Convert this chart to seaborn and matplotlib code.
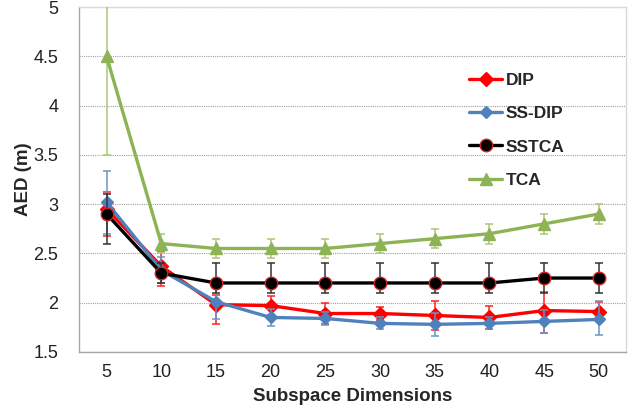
import numpy as np
import pandas as pd
import seaborn as sns
import matplotlib.pyplot as plt

# subspace dimensions
dims = [5, 10, 15, 20, 25, 30, 35, 40, 45, 50]

# mean AED (m) per method
dip = [2.95, 2.37, 1.98, 1.97, 1.89, 1.89, 1.87, 1.85, 1.92, 1.91]
ssdip = [3.02, 2.33, 2.01, 1.85, 1.84, 1.79, 1.78, 1.79, 1.81, 1.83]
sstca = [2.90, 2.30, 2.20, 2.20, 2.20, 2.20, 2.20, 2.20, 2.25, 2.25]
tca = [4.50, 2.60, 2.55, 2.55, 2.55, 2.60, 2.65, 2.70, 2.80, 2.90]

# error bars (below, above)
dip_lo = [0.27, 0.20, 0.20, 0.10, 0.11, 0.07, 0.15, 0.12, 0.23, 0.10]
dip_hi = [0.17, 0.15, 0.10, 0.10, 0.11, 0.07, 0.15, 0.12, 0.19, 0.10]
ssdip_lo = [0.32, 0.13, 0.18, 0.09, 0.07, 0.06, 0.12, 0.06, 0.12, 0.16]
ssdip_hi = [0.32, 0.13, 0.18, 0.09, 0.07, 0.06, 0.12, 0.06, 0.12, 0.19]
sstca_lo = [0.30, 0.10, 0.10, 0.10, 0.10, 0.10, 0.10, 0.10, 0.15, 0.15]
sstca_hi = [0.20, 0.10, 0.20, 0.20, 0.20, 0.20, 0.20, 0.20, 0.15, 0.15]
tca_lo = [1.00, 0.10, 0.10, 0.10, 0.10, 0.10, 0.10, 0.10, 0.10, 0.10]
tca_hi = [1.00, 0.10, 0.10, 0.10, 0.10, 0.10, 0.10, 0.10, 0.10, 0.10]

methods = ["DIP", "SS-DIP", "SSTCA", "TCA"]
means = [dip, ssdip, sstca, tca]
lows = [dip_lo, ssdip_lo, sstca_lo, tca_lo]
highs = [dip_hi, ssdip_hi, sstca_hi, tca_hi]

line_colors = {"DIP": "#ff0000", "SS-DIP": "#4f81bd", "SSTCA": "#000000", "TCA": "#8db354"}
err_colors = {"DIP": "#ff2020", "SS-DIP": "#6f93c4", "SSTCA": "#333333", "TCA": "#a9c77a"}
marker_map = {"DIP": "D", "SS-DIP": "D", "SSTCA": "o", "TCA": "^"}
marker_size = {"DIP": 7, "SS-DIP": 6, "SSTCA": 9, "TCA": 9}
edge_map = {"DIP": "#ff0000", "SS-DIP": "#4f81bd", "SSTCA": "#d02020", "TCA": "#8db354"}

df = pd.DataFrame({
    "Subspace Dimensions": dims * len(methods),
    "AED (m)": sum(means, []),
    "Method": sum([[m] * len(dims) for m in methods], []),
})

sns.set_style("white")
plt.rcParams['font.family'] = ['Liberation Sans', 'DejaVu Sans']

fig, ax = plt.subplots(figsize=(6.39, 4.17), dpi=100)
fig.subplots_adjust(left=0.124, right=0.98, top=0.983, bottom=0.156)

for i, m in enumerate(methods):
    sub = df[df["Method"] == m]
    ax.errorbar(sub["Subspace Dimensions"], sub["AED (m)"], yerr=[lows[i], highs[i]],
                fmt="none", ecolor=err_colors[m], elinewidth=1.1, capsize=3, capthick=1.1,
                zorder=2 + i)
    sns.lineplot(data=sub, x="Subspace Dimensions", y="AED (m)", ax=ax,
                 color=line_colors[m], linewidth=2.4, marker=marker_map[m],
                 markersize=marker_size[m], markeredgecolor=edge_map[m],
                 markeredgewidth=1, label=m, zorder=3 + i)

ax.set_xlim(2.5, 52.5)
ax.set_ylim(1.5, 5)
ax.set_xticks(dims)
ax.set_yticks([1.5, 2, 2.5, 3, 3.5, 4, 4.5, 5])
ax.set_yticklabels(["1.5", "2", "2.5", "3", "3.5", "4", "4.5", "5"])
ax.tick_params(axis="both", labelsize=13, length=0, colors="#222222")
ax.tick_params(axis="x", pad=9)
ax.tick_params(axis="y", pad=15)
ax.yaxis.grid(True, linestyle=(0, (1, 1)), color="#a0a0a0", linewidth=0.8)
ax.xaxis.grid(False)
for s in ["top", "right"]:
    ax.spines[s].set_color("#d9d9d9")
for s in ["left", "bottom"]:
    ax.spines[s].set_color("#a6a6a6")
for s in ax.spines.values():
    s.set_linewidth(1)

ax.set_xlabel("Subspace Dimensions", fontsize=13.5, fontweight="bold", labelpad=5)
ax.set_ylabel("AED (m)", fontsize=13.5, fontweight="bold", labelpad=1)

leg = ax.legend(loc="upper left", bbox_to_anchor=(0.7, 0.83), frameon=False,
                prop={"size": 12.5, "weight": "bold"}, handlelength=1.9,
                handletextpad=0.2, labelspacing=1.05, borderaxespad=0)

fig.savefig("out.png", dpi=100)
